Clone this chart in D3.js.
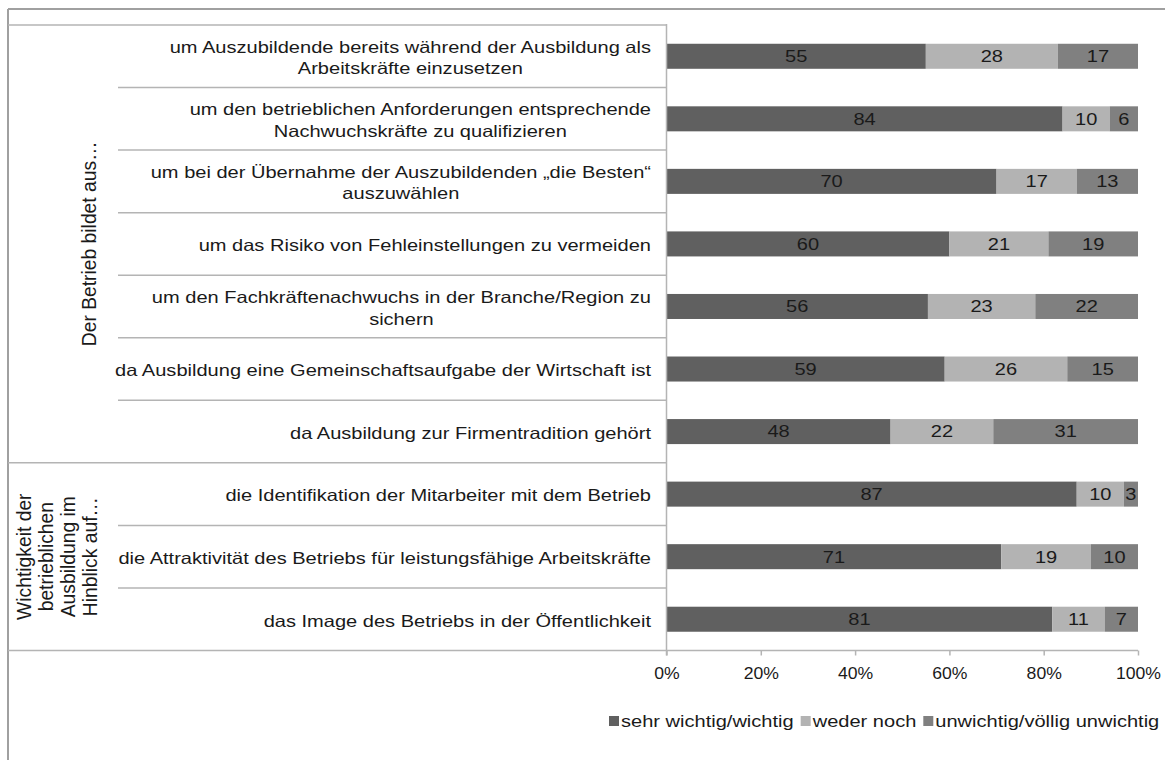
<!DOCTYPE html>
<html>
<head>
<meta charset="utf-8">
<script src="https://cdn.jsdelivr.net/npm/d3@7"></script>
<style>
body { margin: 0; background: #fff; }
text { font-family: "Liberation Sans", Arial, sans-serif; fill: #1a1a1a; }
</style>
</head>
<body>
<div id="chart"></div>
<script>
const width = 1165
const height = 760

// category labels (line breaks as in the original)
const categories = [
"um Auszubildende bereits während der Ausbildung als\nArbeitskräfte einzusetzen",
"um den betrieblichen Anforderungen entsprechende\nNachwuchskräfte zu qualifizieren",
"um bei der Übernahme der Auszubildenden „die Besten“\nauszuwählen",
"um das Risiko von Fehleinstellungen zu vermeiden",
"um den Fachkräftenachwuchs in der Branche/Region zu\nsichern",
"da Ausbildung eine Gemeinschaftsaufgabe der Wirtschaft ist",
"da Ausbildung zur Firmentradition gehört",
"die Identifikation der Mitarbeiter mit dem Betrieb",
"die Attraktivität des Betriebs für leistungsfähige Arbeitskräfte",
"das Image des Betriebs in der Öffentlichkeit"
]
const groupNames = [
"Der Betrieb bildet aus…",
"Wichtigkeit der\nbetrieblichen\nAusbildung im\nHinblick auf…"
]
const groupOf = [0,0,0,0,0,0,0,1,1,1]

const seriesNames = ["sehr wichtig/wichtig","weder noch","unwichtig/völlig unwichtig"]
const sehrWichtig = [55,84,70,60,56,59,48,87,71,81]
const wederNoch  = [28,10,17,21,23,26,22,10,19,11]
const unwichtig  = [17,6,13,19,22,15,31,3,10,7]
const xTicks = [0,0.2,0.4,0.6,0.8,1]

const colors = ["#606060","#b3b3b3","#808080"]
const fs = 16.3   // font size
const sx = 1.23   // horizontal stretch of the source picture's text

const rows = categories.map((c,i)=>({
  id:i, label:c, group:groupOf[i],
  s0:sehrWichtig[i], s1:wederNoch[i], s2:unwichtig[i]
}))

const svg = d3.select("#chart").append("svg")
.attr("width",width).attr("height",height)

// outer frame
svg.append("line").attr("x1",8).attr("x2",width).attr("y1",9).attr("y2",9)
.attr("stroke","#a0a0a0").attr("stroke-width",2)
svg.append("line").attr("x1",8).attr("x2",8).attr("y1",9).attr("y2",height)
.attr("stroke","#a0a0a0").attr("stroke-width",2)

const x0 = 666.5, x1 = 1138, plotTop = 25, plotBottom = 650.5
const x = d3.scaleLinear().domain([0,1]).range([x0,x1])
const y = d3.scaleBand().domain(rows.map(d=>d.id)).range([plotTop,plotBottom])
.paddingInner(0.6).paddingOuter(0.3)
const step = y.step()

const stack = d3.stack().keys(["s0","s1","s2"]).offset(d3.stackOffsetExpand)
const series = stack(rows)

// bars
const layers = svg.selectAll("g.layer").data(series).enter().append("g")
.attr("class","layer").attr("fill",(d,i)=>colors[i])

layers.selectAll("rect").data(d=>d).enter().append("rect")
.attr("x",d=>x(d[0]))
.attr("width",d=>x(d[1])-x(d[0]))
.attr("y",d=>y(d.data.id))
.attr("height",y.bandwidth())

// value labels
series.forEach((s,k)=>{
  svg.append("g").selectAll("g").data(s).enter().append("g")
  .attr("transform",d=>`translate(${(x(d[0])+x(d[1]))/2},${y(d.data.id)+y.bandwidth()/2}) scale(${sx},1)`)
  .append("text")
  .attr("dy","0.36em")
  .attr("text-anchor","middle")
  .style("font-size",fs+"px")
  .text(d=>d.data["s"+k])
})

// category grid lines (left area)
const lineColor = "#b4b4b4"
const boundaries = d3.range(rows.length+1)
svg.append("g").selectAll("line").data(boundaries).enter().append("line")
.attr("x1",i=>{
  if(i===0||i===rows.length) return 8
  return groupOf[i]!==groupOf[i-1] ? 8 : 118
})
.attr("x2",i=>i===rows.length ? x1 : x0)
.attr("y1",i=>plotTop+i*step).attr("y2",i=>plotTop+i*step)
.attr("stroke",lineColor).attr("stroke-width",1.5)

// x axis
const xAxis = svg.append("g").attr("transform",`translate(0,${plotBottom})`)
.call(d3.axisBottom(x).tickValues(xTicks).tickSize(5).tickFormat(d3.format(".0%")))
xAxis.select(".domain").remove()
xAxis.selectAll(".tick line").attr("stroke",lineColor).attr("stroke-width",1.5)
xAxis.selectAll(".tick text")
.attr("fill","#1a1a1a")
.attr("y",28.5).attr("dy",null)
.attr("transform","scale(1.08,1)")
.style("font-size",fs+"px").style("font-family","Liberation Sans, Arial, sans-serif")

// y axis line
svg.append("line").attr("x1",x0).attr("x2",x0).attr("y1",plotTop-1).attr("y2",plotBottom+5)
.attr("stroke",lineColor).attr("stroke-width",1.5)

// category labels
const labelRight = 651
const lh = 21.5
rows.forEach(d=>{
  const lines = d.label.split("\n")
  const cy = y(d.id)+y.bandwidth()/2
  const g = svg.append("g").attr("transform",`translate(${labelRight},0) scale(${sx},1)`)
  const t = g.append("text").attr("text-anchor","middle").style("font-size",fs+"px")
  lines.forEach((l,j)=>{
    t.append("tspan").attr("y",cy+(j-(lines.length-1)/2)*lh).attr("dy","0.45em").text(l)
  })
  let w = 0
  t.selectAll("tspan").each(function(){ w = Math.max(w,this.getComputedTextLength()) })
  t.selectAll("tspan").attr("x",-w/2)
})

// group labels (rotated)
groupNames.forEach((g,gi)=>{
  const idx = rows.filter(r=>r.group===gi).map(r=>r.id)
  const cy = plotTop + (d3.min(idx) + (d3.max(idx)+1))/2*step
  const lines = g.split("\n")
  const baseX = gi===0 ? 96 : 31
  lines.forEach((l,j)=>{
    svg.append("g")
    .attr("transform",`translate(${baseX+j*22},${cy}) rotate(-90)`)
    .append("text").attr("text-anchor","middle")
    .style("font-size","19.3px")
    .text(l)
  })
})

// legend
const legend = svg.append("g").attr("transform","translate(609,727)")
let lx = 0
seriesNames.forEach((n,i)=>{
  legend.append("rect").attr("x",lx).attr("y",-11).attr("width",10).attr("height",10)
  .attr("fill",colors[i])
  const t = legend.append("g").attr("transform",`translate(${lx+12},0) scale(${sx},1)`)
  .append("text").style("font-size",fs+"px").text(n)
  lx += 12 + t.node().getComputedTextLength()*sx + 7
})
</script>
</body>
</html>
